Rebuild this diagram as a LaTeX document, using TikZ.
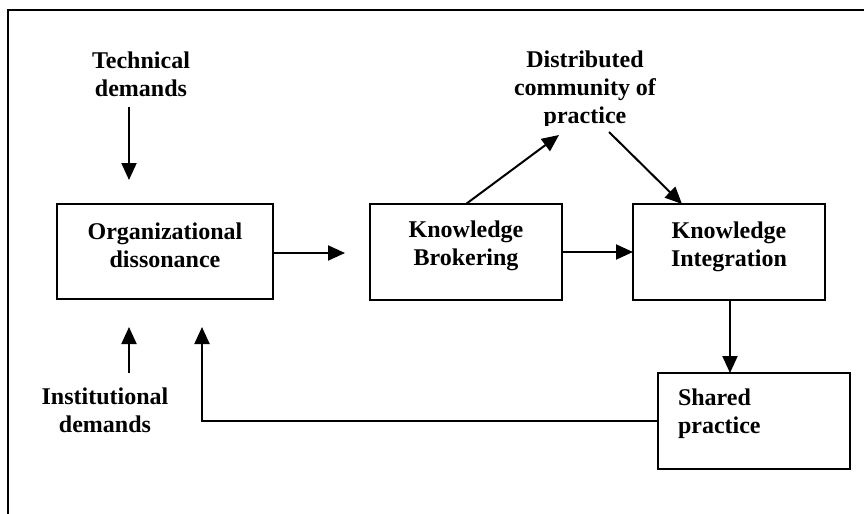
\documentclass[tikz,border=0pt]{standalone}
\usepackage{fontspec}
\setmainfont{Liberation Serif}
\usetikzlibrary{arrows.meta,fit}
\begin{document}
\begin{tikzpicture}[x=0.5pt,y=-0.5pt,
  every node/.style={font=\bfseries\fontsize{12}{14}\selectfont, inner sep=0pt, outer sep=0pt},
  box/.style={draw, line width=1pt, inner sep=0pt},
  lbl/.style={align=center},
  arr/.style={line width=1pt, -{Triangle[length=8.5pt,width=7.5pt]}},
  ln/.style={line width=1pt}]
\useasboundingbox (0,0) rectangle (864,514);
% outer frame (cut by the page on the right and bottom)
\begin{scope}
\clip (0,0) rectangle (864,514);
\draw[line width=1.3pt] (8,10) rectangle (900,560);
\end{scope}
% boxes
\node[box, fit={(57,204) (273,299)}] (org) {};
\node[box, fit={(370,204) (562,300)}] (kb) {};
\node[box, fit={(633,204) (825,300)}] (ki) {};
\node[box, fit={(658,373) (850,469)}] (sp) {};
% texts
\node[lbl] (orgt) at (165,245.5) {Organizational\\dissonance};
\node[lbl] (kbt) at (466,245.5) {Knowledge\\Brokering};
\node[lbl] (kit) at (729,246.5) {Knowledge\\Integration};
\node[align=left, anchor=west] (spt) at (678,413.5) {Shared\\practice};
\node[lbl] (tech) at (141,74.5) {Technical\\demands};
\node[lbl] (inst) at (105,410) {Institutional\\demands};
\begin{scope}
\clip (0,0) rectangle (864,125);
\node[lbl] (dcp) at (585,90) {Distributed\\community of\\practice};
\end{scope}
% connector end points
\coordinate (t1) at (129,107);
\coordinate (t2) at (129,180);
\coordinate (i1) at (129,373);
\coordinate (i2) at (129,327);
\coordinate (okb) at (345,253);
\coordinate (d1) at (559,135);
\coordinate (d2) at (609,132);
\coordinate (kitop) at (682,204);
\coordinate (fb) at (202,421);
\coordinate (fbend) at (202,327);
% connectors
\draw[arr] (t1) -- (t2);
\draw[arr] (i1) -- (i2);
\draw[arr] (org.east |- okb) -- (okb);
\draw[arr] (kb.east |- 0,252) -- (ki.west |- 0,252);
\draw[arr] (kb.north) -- (d1);
\draw[arr] (d2) -- (kitop);
\draw[arr] (730,300) -- (730,373);
\draw[arr] (sp.west |- fb) -- (fb) -- (fbend);
\end{tikzpicture}
\end{document}
